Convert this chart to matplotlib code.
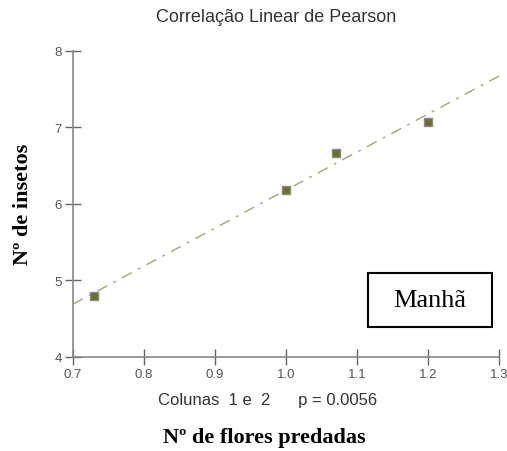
import numpy as np
import matplotlib
matplotlib.use("Agg")
import matplotlib.pyplot as plt
from matplotlib.patches import Rectangle

# Data
x_vals = [0.73, 1.0, 1.07, 1.2]
y_vals = [4.80, 6.18, 6.67, 7.07]
x_ticks = [0.7, 0.8, 0.9, 1.0, 1.1, 1.2, 1.3]
y_ticks = [4, 5, 6, 7, 8]
title = "Correlação Linear de Pearson"
subtitle = "Colunas  1 e  2      p = 0.0056"
xlabel = "Nº de flores predadas"
ylabel = "Nº de insetos"
boxtext = "Manhã"

fig = plt.figure(figsize=(5.07, 4.52), dpi=100)
ax = fig.add_axes([73/507, 1-358/452, (499-73)/507, (358-51.7)/452])

# regression line
slope, intercept = np.polyfit(x_vals, y_vals, 1)
xl = np.array([0.7, 1.3])
ax.plot(xl, slope*xl + intercept, color="#a5a570", lw=1.0,
        linestyle=(0, (8, 5, 2, 5)), zorder=2)
ax.scatter(x_vals, y_vals, marker="s", s=36, facecolor="#6e6e32",
           edgecolor="#8a8a80", linewidth=1.0, zorder=3)

ax.set_xlim(0.7, 1.3)
ax.set_ylim(4, 8)
ax.set_xticks(x_ticks)
ax.set_xticklabels(["%.1f" % t for t in x_ticks])
ax.set_yticks(y_ticks)
ax.set_yticklabels([str(t) for t in y_ticks])
for s in ["top", "right"]:
    ax.spines[s].set_visible(False)
for s in ["left", "bottom"]:
    ax.spines[s].set_color("#888888")
    ax.spines[s].set_linewidth(1.2)
ax.tick_params(axis="both", direction="inout", length=12, width=1.0,
               color="#666666", labelsize=9.5, labelcolor="#555555", pad=2)
for lab in ax.get_xticklabels() + ax.get_yticklabels():
    lab.set_family("Liberation Sans")

fig.text(276/507, 1-18/452, title, ha="center", va="center",
         fontsize=13, color="#333333", family="Liberation Sans")
fig.text(268/507, 1-401/452, subtitle, ha="center", va="center",
         fontsize=12, color="#333333", family="Liberation Sans")
fig.text(264/507, 1-438/452, xlabel, ha="center", va="center",
         fontsize=16, fontweight="bold", color="black", family="Liberation Serif")
fig.text(23/507, 1-204/452, ylabel, ha="center", va="center", rotation=90,
         fontsize=16, fontweight="bold", color="black", family="Liberation Serif")

# annotation box
fig.patches.append(Rectangle((368/507, 1-328/452), (492-368)/507, (328-274)/452,
                             transform=fig.transFigure, facecolor="white",
                             edgecolor="black", linewidth=1.5, zorder=5))
fig.text(430/507, 1-301/452, boxtext, ha="center", va="center",
         fontsize=19, color="black", family="Liberation Serif", zorder=6)

fig.savefig("out.png", dpi=100)
